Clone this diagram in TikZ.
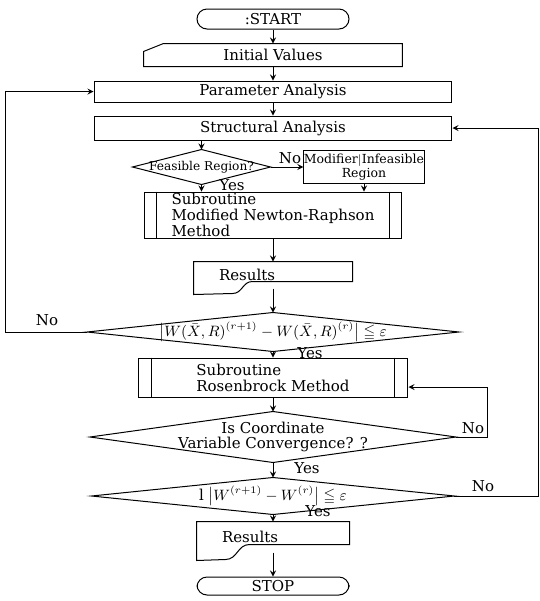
\documentclass[tikz,border=0pt]{standalone}
\usepackage{amsmath,amssymb}
\usepackage{fontspec}
\setmainfont{DejaVu Serif}
\usepackage{tikz}
\usetikzlibrary{arrows,positioning,calc}

\begin{document}
\begin{tikzpicture}[x=0.6pt, y=-0.6pt, line width=0.6pt, >=stealth]
\tikzset{every node/.style={font=\fontsize{9}{9.5}\selectfont},
  term/.style={draw, rectangle, rounded corners=6pt, inner sep=0pt, minimum width=91.2pt},
  proc/.style={draw, rectangle, inner sep=0pt, align=center, minimum width=214.8pt},
  subr/.style={draw, rectangle, inner sep=0pt, align=left},
  decide/.style={rectangle, inner sep=0pt, align=center},
  doc/.style={rectangle, inner xsep=15pt, inner ysep=0pt, align=left},
  lbl/.style={inner sep=1pt}}
\useasboundingbox (0,0) rectangle (540,601);
% main column
\node[term, minimum height=12pt] (start) at (273,19) {:START};
\node[rectangle, inner sep=0pt, minimum width=154.8pt, minimum height=13.2pt] (init) at (273,55) {Initial Values};
\node[proc, minimum height=12.6pt] (param) at (273,91.5) {Parameter Analysis};
\node[proc, minimum height=14.4pt] (struct) at (273,128) {Structural Analysis};
\node[decide, font=\fontsize{7.3}{8.5}\selectfont, minimum width=82.2pt, minimum height=20.4pt] (feas) at (201.5,167) {Feasible Region?};
\node[proc, font=\fontsize{7.5}{8.5}\selectfont, minimum width=64.8pt, minimum height=19.8pt] (modif) at (364,167) {Modifier$|$Infeasible\\Region};
\node[subr, minimum width=154.8pt, minimum height=27.6pt] (newton) at (273,215) {Subroutine\\Modified Newton-Raphson\\Method};
\node[doc, text width=64.8pt, minimum height=15.6pt] (res1) at (273,275) {Results};
\node[decide, minimum width=222.6pt, minimum height=22.8pt] (conv1) at (273,332) {$\bigl|W(\bar{X},R)^{(r+1)}-W(\bar{X},R)^{(r)}\bigr|\leqq\varepsilon$};
\node[subr, minimum width=162pt, minimum height=23.4pt] (rosen) at (273,377.5) {Subroutine\\Rosenbrock Method};
\node[decide, minimum width=219pt, minimum height=30pt] (coord) at (273,437) {Is Coordinate\\Variable Convergence? ?};
\node[decide, minimum width=217.2pt, minimum height=21.6pt] (conv2) at (273,496) {$\mathrm{l}\;\bigl|W^{(r+1)}-W^{(r)}\bigr|\leqq\varepsilon$};
\node[doc, text width=61.2pt, minimum height=18pt] (res2) at (273,537) {Results};
\node[term, minimum height=10.8pt] (stop) at (273,586) {STOP};
\coordinate (lft) at (5,0);
\coordinate (rgt) at (538,0);

% shapes
\draw (init.south west) -- ($(init.north west)+(0,8)$) -- ($(init.north west)+(20,0)$) -- (init.north east) -- (init.south east) -- cycle;
\foreach \d in {feas,conv1,coord,conv2}
  \draw (\d.west) -- (\d.north) -- (\d.east) -- (\d.south) -- cycle;
\foreach \s/\o in {newton/13,rosen/14} {
  \draw ($(\s.north west)+(\o,0)$) -- ($(\s.south west)+(\o,0)$);
  \draw ($(\s.north east)+(-\o,0)$) -- ($(\s.south east)+(-\o,0)$);
}
\draw (res1.north west) -- (res1.north east) -- ++(0,20) -- ++(-100,0) .. controls +(-10,0) and +(10,0) .. ++(-20,12) -- ($(res1.south west)+(0,6)$) -- cycle;
\draw (res2.north west) -- (res2.north east) -- ++(0,23) -- ++(-100,0) .. controls +(-12,0) and +(12,0) .. ++(-24,15) -- ($(res2.south west)+(0,8)$) -- cycle;

% connectors
\draw[->] (start) -- (init);
\draw[->] (init) -- (param);
\draw[->] (param) -- (struct);
\draw[->] (feas.north |- struct.south) -- (feas.north);
\draw[->] (feas.east) -- (modif.west);
\draw[->] (feas.south) -- (feas.south |- newton.north);
\draw[->] (modif.south) -- (modif.south |- newton.north);
\draw[->] (newton) -- (res1);
\draw[->] (res1.south) -- (conv1.north);
\draw[->] (conv1.south) -- (rosen.north);
\draw[->] (rosen.south) -- (coord.north);
\draw[->] (coord.south) -- (conv2.north);
\draw[->] (conv2.south) -- (res2.north);
\draw[->] (res2.south) -- (stop.north);
\draw[->] (conv1.west) -- (conv1.west -| lft) |- (param.west);
\draw[->] (coord.east) -- ++(32,0) |- ($(rosen.east)+(0,9.5)$);
\draw[->] (conv2.east) -- (conv2.east -| rgt) |- (struct.east);

% labels
\node[lbl] (nofeas) at (290,158) {No};
\node[lbl] (yesfeas) at (232,185) {Yes};
\node[lbl] (noconv1) at (47,320) {No};
\node[lbl] (yesconv1) at (310,353) {Yes};
\node[lbl] (nocoord) at (473,428) {No};
\node[lbl] (yescoord) at (307,468) {Yes};
\node[lbl] (noconv2) at (483,486) {No};
\node[lbl] (yesconv2) at (318,511) {Yes};
\end{tikzpicture}
\end{document}
